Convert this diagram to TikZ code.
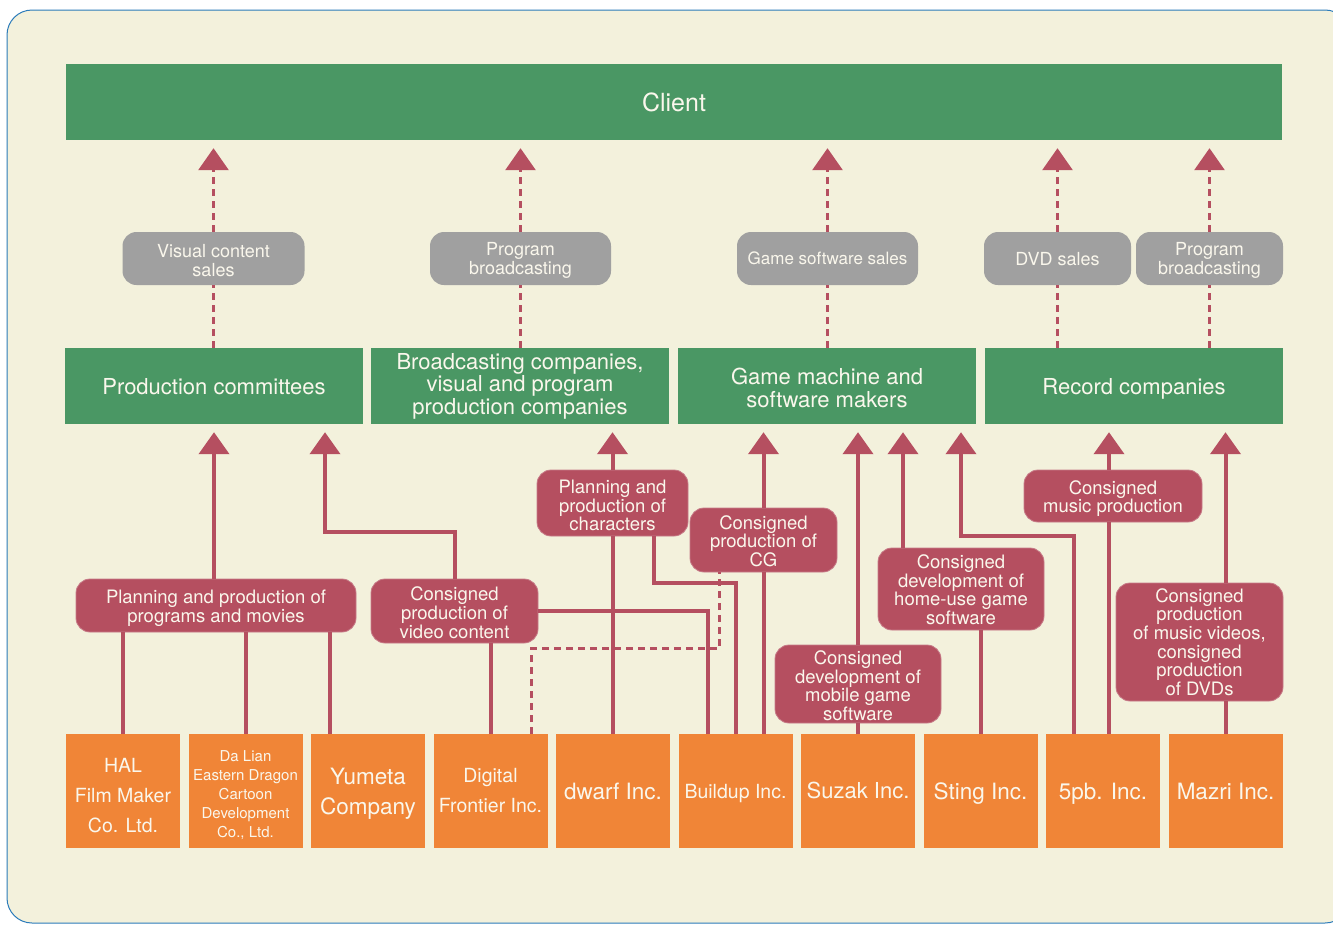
\documentclass[tikz,border=0pt]{standalone}
\usepackage{fontspec}
\setmainfont{TeX Gyre Heros}
\usetikzlibrary{arrows.meta,positioning}

\definecolor{paper}{HTML}{F3F1DC}
\definecolor{frame}{HTML}{2B7BBA}
\definecolor{leaf}{HTML}{4A9764}
\definecolor{stone}{HTML}{A0A0A0}
\definecolor{wine}{HTML}{B54F60}
\definecolor{amber}{HTML}{F08537}
\definecolor{chalk}{HTML}{FAF7EC}

\begin{document}
\begin{tikzpicture}[y=-1pt,x=1pt,
	every node/.style={inner sep=0pt,text=chalk,align=center},
	oneline/.style={text height=#1,text depth=0pt},
	client/.style={fill=leaf,minimum width=1216pt,minimum height=76pt,font=\fontsize{25}{25}\selectfont},
	maker/.style={fill=leaf,minimum width=298pt,minimum height=76pt,font=\fontsize{22}{22.5}\selectfont},
	sale/.style={fill=stone,rounded corners=14pt,minimum height=53pt,font=\fontsize{18}{19}\selectfont},
	task/.style={fill=wine,draw=wine!75!white,line width=0.8pt,rounded corners=14pt,font=\fontsize{18.5}{18.6}\selectfont},
	firm/.style={fill=amber,minimum width=114pt,minimum height=114pt,font=\fontsize{22.5}{30}\selectfont},
	link/.style={draw=wine,line width=4pt},
	dashlink/.style={draw=wine,line width=3pt,dash pattern=on 7pt off 5pt},
	tip/.style={-{Triangle[width=30pt,length=22pt]},shorten >=8pt},
]
	\newcommand\Pad[1]{\rule{0pt}{#1}}

	\useasboundingbox (0,0) rectangle (1333,924);
	\fill[white] (0,0) rectangle (1333,924);
	\draw[fill=paper,draw=frame,line width=1pt,rounded corners=25pt] (7,10) rectangle (1350,923);

	\node[client,oneline=18pt] (client) at (674,102) {Client};

	\node[sale,minimum width=182pt] (vsales) at (213.5,258.5) {\Pad{17pt}Visual content\\sales};
	\node[sale,minimum width=181pt] (bsales) at (520.5,258.5) {\Pad{17pt}Program\\broadcasting};
	\node[sale,minimum width=181pt,oneline=12.2pt,font=\fontsize{17}{19}\selectfont] (gsales) at (827.5,258.5) {Game software sales};
	\node[sale,minimum width=147pt,oneline=13pt] (dsales) at (1057.5,258.5) {DVD sales};
	\node[sale,minimum width=147pt] (rsales) at (1209.5,258.5) {\Pad{17pt}Program\\broadcasting};

	\node[maker,oneline=16pt] (prodcom) at (214,386) {Production committees};
	\node[maker] (bcast) at (520,386) {Broadcasting companies,\\visual and program\\production companies};
	\node[maker] (gamemk) at (827,386) {\Pad{20pt}Game machine and\\software makers};
	\node[maker,oneline=16pt] (record) at (1134,386) {Record companies};

	\node[task,minimum width=280pt,minimum height=53pt] (progmov) at (216,605.5) {\Pad{18.5pt}Planning and production of\\programs and movies};
	\node[task,minimum width=167pt,minimum height=64pt] (video) at (454.5,611) {\Pad{17.3pt}Consigned\\production of\\video content};
	\node[task,minimum width=151pt,minimum height=66pt] (chars) at (612.5,503) {\Pad{18.5pt}Planning and\\production of\\characters};
	\node[task,minimum width=147pt,minimum height=64pt] (cg) at (763.5,540) {\Pad{16pt}Consigned\\production of\\CG};
	\node[task,minimum width=166pt,minimum height=78pt] (mobile) at (858,684) {\Pad{17.3pt}Consigned\\development of\\mobile game\\software};
	\node[task,minimum width=166pt,minimum height=82pt] (homeuse) at (961,589) {\Pad{15.5pt}Consigned\\development of\\home-use game\\software};
	\node[task,minimum width=178pt,minimum height=52pt] (music) at (1113,496) {\Pad{19pt}Consigned\\music production};
	\node[task,minimum width=167pt,minimum height=118pt] (mvdvd) at (1199.5,642) {Consigned\\production\\of music videos,\\consigned\\production\\of DVDs};

	\node[firm,font=\fontsize{19.5}{30}\selectfont] (hal) at (123,791) {\Pad{23pt}HAL\\Film Maker\\Co. Ltd.};
	\node[firm,font=\fontsize{15}{19}\selectfont] (dalian) at (245.5,791) {\Pad{19pt}Da Lian\\Eastern Dragon\\Cartoon\\Development\\Co., Ltd.};
	\node[firm] (yumeta) at (368,791) {\Pad{22pt}Yumeta\\Company};
	\node[firm,font=\fontsize{19.5}{30}\selectfont] (digital) at (490.5,791) {Digital\\Frontier Inc.};
	\node[firm,oneline=16pt] (dwarf) at (613,791) {dwarf Inc.};
	\node[firm,oneline=14pt,font=\fontsize{19.5}{30}\selectfont] (buildup) at (735.5,791) {Buildup Inc.};
	\node[firm,oneline=15.8pt,font=\fontsize{22}{30}\selectfont] (suzak) at (858,791) {Suzak Inc.};
	\node[firm,oneline=16pt] (sting) at (980.5,791) {Sting Inc.};
	\node[firm,oneline=16pt] (fivepb) at (1103,791) {5pb. Inc.};
	\node[firm,oneline=16pt] (mazri) at (1225.5,791) {Mazri Inc.};

	% sales to client
	\foreach \s/\m in {vsales/prodcom,bsales/bcast,gsales/gamemk,dsales/record,rsales/record} {
		\draw[dashlink] (\s.south |- \m.north) -- (\s.south);
		\draw[dashlink,tip] (\s.north) -- (\s.north |- client.south);
	}

	\coordinate (ym) at ([xshift=-38pt]yumeta.center);
	\coordinate (bl) at ([xshift=-27.5pt]buildup.center);
	\coordinate (hu) at ([xshift=-58pt]homeuse.center);
	\coordinate (mu) at ([xshift=-4pt]music.center);

	\draw[link,tip] (progmov.north -| prodcom.south) -- (prodcom.south);
	\draw[link] (hal.north) -- (hal.north |- progmov.south);
	\draw[link] (dalian.north) -- (dalian.north |- progmov.south);
	\draw[link] (ym |- yumeta.north) -- (ym |- progmov.south);

	\draw[link,tip] (video.north) -- ++(0,-47) -| ([xshift=111pt]prodcom.south);
	\draw[link] (digital.north) -- (digital.north |- video.south);
	\draw[link] (bl |- buildup.north) |- (video.east);

	\draw[link,tip] (chars.north) -- (chars.north |- bcast.south);
	\draw[link] (dwarf.north) -- (dwarf.north |- chars.south);
	\draw[link] (buildup.north) -- ++(0,-151) -| ([xshift=41.5pt]chars.south);

	\draw[link,tip] (cg.north) -- (cg.north |- gamemk.south);
	\draw[link] (cg.south) -- (cg.south |- buildup.north);
	\draw[dashlink] ([xshift=-16.5pt]digital.north east) -- ++(0,-85) -| ([xshift=-44.5pt]cg.south);

	\draw[link,tip] (mobile.north) -- (mobile.north |- gamemk.south);
	\draw[link] (suzak.north) -- (suzak.north |- mobile.south);

	\draw[link,tip] (hu |- homeuse.north) -- (hu |- gamemk.south);
	\draw[link] (sting.north) -- (sting.north |- homeuse.south);
	\draw[link,tip] ([xshift=-29pt]fivepb.north) -- ++(0,-198) -| ([xshift=134pt]gamemk.south);

	\draw[link,tip] (mu |- music.north) -- (mu |- record.south);
	\draw[link] (mu |- fivepb.north) -- (mu |- music.south);

	\draw[link,tip] (mazri.north |- mvdvd.north) -- (mazri.north |- record.south);
	\draw[link] (mazri.north) -- (mazri.north |- mvdvd.south);
\end{tikzpicture}
\end{document}
